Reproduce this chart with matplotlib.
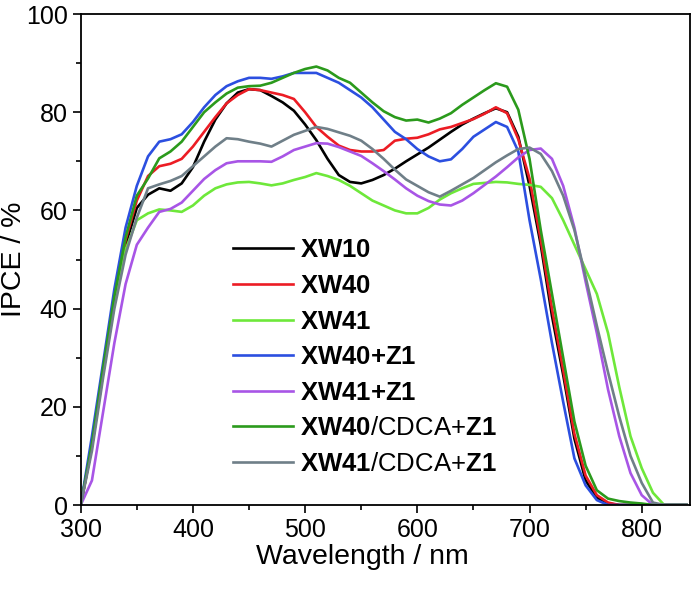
import numpy as np
import matplotlib
matplotlib.use('Agg')
import matplotlib.pyplot as plt

plt.rcParams['font.family'] = ['Liberation Sans', 'DejaVu Sans']
plt.rcParams['mathtext.fontset'] = 'custom'
plt.rcParams['mathtext.rm'] = 'Liberation Sans'
plt.rcParams['mathtext.bf'] = 'Liberation Sans:bold'

# wavelength grid (nm), 10 nm steps
wavelength = list(range(300, 850, 10))

# IPCE (%)
xw10 = [0, 12, 27, 41, 53, 60.5, 63.2, 64.5, 64, 65.5, 68.8, 74, 78.5, 81.8, 84, 84.7, 84.5, 83.3, 82, 80.3,
        77.5, 74.3, 70.5, 67.2, 65.8, 65.5, 66.2, 67.2, 68.5, 70, 71.4, 72.8, 74.4, 76, 77.5, 78.7, 79.8, 80.8, 80, 75,
        65, 53, 38.5, 26.5, 13.5, 5, 1.5, 0.3, 0, 0, 0, 0, 0, 0, 0]
xw40 = [0, 12, 27.5, 42, 54, 62, 67, 69, 69.5, 70.5, 73, 76, 79, 81.8, 83.5, 84.7, 84.5, 84, 83.5, 82.7,
        80, 77, 75, 73.2, 72.3, 72, 72, 72.3, 74.2, 74.6, 74.8, 75.5, 76.5, 77, 77.8, 78.6, 79.7, 81, 79.8, 74.5,
        66.5, 54, 40, 27.5, 14.5, 6, 2, 0.5, 0, 0, 0, 0, 0, 0, 0]
xw41 = [0, 12, 27, 41, 52, 58, 59.4, 60.2, 60, 59.7, 61, 63, 64.5, 65.3, 65.7, 65.8, 65.5, 65.1, 65.5, 66.2,
        66.8, 67.6, 67, 66.2, 65, 63.5, 62, 61, 60, 59.4, 59.4, 60.5, 62.2, 63.5, 64.5, 65.4, 65.6, 65.8, 65.7, 65.4,
        65.2, 64.8, 62.5, 58, 53, 48, 43, 35, 24, 14, 7.5, 2.5, 0, 0, 0]
xw40_z1 = [0, 14, 29, 44, 56.5, 65, 71, 74, 74.5, 75.5, 78, 81, 83.5, 85.3, 86.3, 87, 87, 86.8, 87.3, 88,
           88, 88, 87, 86, 84.5, 83, 81, 78.5, 76, 74.5, 72.5, 71, 70, 70.4, 72.5, 75, 76.5, 78, 77, 72,
           58, 46, 33, 21, 9.5, 4, 1, 0, 0, 0, 0, 0, 0, 0, 0]
xw41_z1 = [0, 5, 19, 33, 45, 53, 56.5, 59.7, 60.3, 61.6, 64, 66.4, 68.2, 69.6, 70, 70, 70, 69.9, 71, 72.3,
           73, 73.7, 73.6, 72.9, 72, 71.1, 69.6, 68, 66.3, 64.5, 63, 61.9, 61.2, 61, 62, 63.5, 65.2, 66.9, 68.8, 70.8,
           72.3, 72.6, 70.5, 65, 56.5, 45.5, 35, 23.5, 14, 6.5, 2, 0, 0, 0, 0]
xw40_cdca_z1 = [0, 12.5, 28, 42.5, 54.5, 63, 66.5, 70.6, 72, 74, 77, 80, 82, 83.8, 85, 85.3, 85.4, 86, 87, 88,
                88.8, 89.3, 88.5, 87, 86, 84, 82, 80.2, 79, 78.3, 78.5, 77.9, 78.7, 79.8, 81.5, 83, 84.5, 85.9, 85.2, 80.5,
                70.5, 56, 43, 30, 17, 8, 3, 1.3, 0.8, 0.5, 0.3, 0, 0, 0, 0]
xw41_cdca_z1 = [0, 11, 26, 40, 51, 58.5, 64.5, 65.3, 66, 67, 69, 71, 73, 74.7, 74.5, 74, 73.6, 73, 74.2, 75.4,
                76.2, 77, 76.6, 75.9, 75.2, 74.2, 72.5, 70.5, 68.3, 66.3, 65, 63.7, 62.8, 64, 65.3, 66.6, 68.2, 69.8, 71.2, 72.5,
                72.8, 71.5, 68, 63, 56, 46.5, 36.5, 27, 18, 10, 4.5, 0.5, 0, 0, 0]

labels = [r'$\mathbf{XW10}$',
          r'$\mathbf{XW40}$',
          r'$\mathbf{XW41}$',
          r'$\mathbf{XW40{+}Z1}$',
          r'$\mathbf{XW41{+}Z1}$',
          r'$\mathbf{XW40}$/CDCA+$\mathbf{Z1}$',
          r'$\mathbf{XW41}$/CDCA+$\mathbf{Z1}$']
colors = ['#000000', '#ec1c24', '#6ee83a', '#2c4fe0', '#a855e6', '#2b9a1c', '#6f7f88']
series = [xw10, xw40, xw41, xw40_z1, xw41_z1, xw40_cdca_z1, xw41_cdca_z1]

fig = plt.figure(figsize=(6.94, 5.91), dpi=100)
ax = fig.add_axes([0.1163, 0.1455, 0.8779, 0.8308])

for y, c, lab in zip(series, colors, labels):
    ax.plot(wavelength, y, color=c, lw=1.9, label=lab)

ax.set_xlim(300, 843)
ax.set_ylim(0, 100)
ax.set_xticks([300, 400, 500, 600, 700, 800])
ax.set_xticks(np.arange(350, 850, 100), minor=True)
ax.set_yticks([0, 20, 40, 60, 80, 100])
ax.set_yticks(np.arange(10, 100, 20), minor=True)
ax.tick_params(which='major', direction='out', length=5.5, width=1.2, labelsize=18, pad=4)
ax.tick_params(which='minor', direction='out', length=3.5, width=1.2)
ax.tick_params(top=False, right=False, which='both')
for s in ax.spines.values():
    s.set_linewidth(1.3)

ax.set_xlabel('Wavelength / nm', fontsize=20.5)
ax.set_ylabel('IPCE / %', fontsize=20.5)
ax.xaxis.set_label_coords(0.462, -0.079)
ax.yaxis.set_label_coords(-0.088, 0.5)

ax.legend(loc='upper left', bbox_to_anchor=(0.2495, 0.543), frameon=False,
          fontsize=18.5, handlelength=2.35, handletextpad=0.25, labelspacing=0.45,
          borderpad=0, borderaxespad=0)

fig.savefig('out.png', dpi=100)
